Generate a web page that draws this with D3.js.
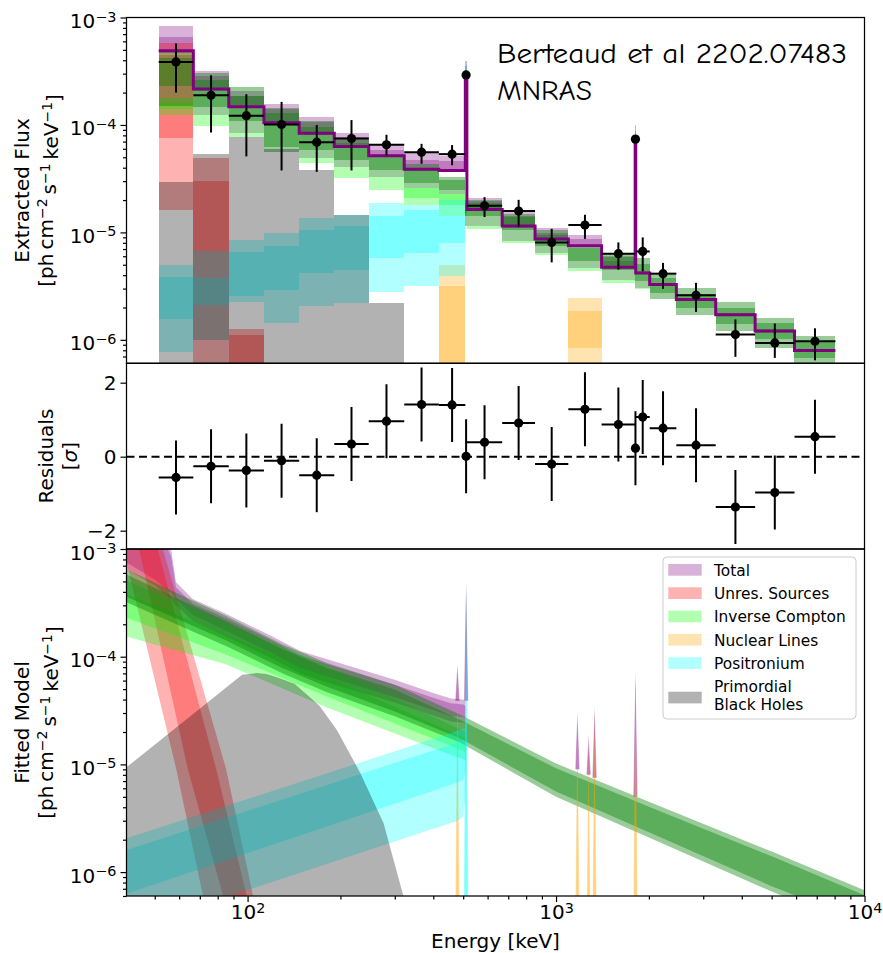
<!DOCTYPE html>
<html><head><meta charset="utf-8">
<script src="https://cdn.jsdelivr.net/npm/d3@7"></script>
<style>
html,body{margin:0;padding:0;background:#fff;}
svg{display:block;font-family:"DejaVu Sans",sans-serif;}
</style></head>
<body><svg id="chart" width="883" height="953"></svg>
<script>
// ===== Extracted flux: energy bins (keV) and measured points =====
const binEdges = [51.5, 66.7, 86.9, 113, 147, 191, 247, 322, 417, 508, 514, 669, 855, 1096, 1405, 1805, 1813, 2012, 2455, 3293, 4420, 5930, 8050];
const flux   = [3.86e-4, 1.89e-4, 1.22e-4, 1.01e-4, 6.92e-5, 7.48e-5, 6.53e-5, 5.58e-5, 5.35e-5, 2.92e-4, 1.77e-5, 1.58e-5, 8.07e-6, 1.17e-5, 6.34e-6, 7.38e-5, 6.65e-6, 4.13e-6, 2.6e-6, 1.12e-6, 9.37e-7, 9.7e-7];
const fluxLo = [2.0e-4, 8.5e-5, 5.1e-5, 3.77e-5, 3.66e-5, 3.77e-5, 5.2e-5, 4.35e-5, 4.22e-5, 2.8e-4, 1.39e-5, 1.12e-5, 5.26e-6, 8.7e-6, 4.5e-6, 7.1e-5, 4.34e-6, 2.98e-6, 1.82e-6, 6.95e-7, 6.8e-7, 6.45e-7];
const fluxHi = [5.73e-4, 2.9e-4, 1.93e-4, 1.64e-4, 1.0e-4, 1.11e-4, 8.1e-5, 6.67e-5, 6.5e-5, 3.05e-4, 2.13e-5, 2.01e-5, 1.08e-5, 1.46e-5, 8.07e-6, 7.7e-5, 8.98e-6, 5.2e-6, 3.39e-6, 1.55e-6, 1.42e-6, 1.28e-6];
const modelStep = [4.91e-4, 2.16e-4, 1.48e-4, 1.05e-4, 8.39e-5, 6.3e-5, 5.16e-5, 3.88e-5, 3.77e-5, 2.95e-4, 1.63e-5, 1.15e-5, 8.69e-6, 7.52e-6, 4.73e-6, 7.4e-5, 4.2e-6, 3.27e-6, 2.37e-6, 1.71e-6, 1.21e-6, 7.96e-7];
const residual = [-0.56, -0.26, -0.37, -0.11, -0.50, 0.34, 0.96, 1.41, 1.40, 0.01, 0.39, 0.91, -0.20, 1.28, 0.87, 0.23, 1.07, 0.77, 0.31, -1.36, -0.97, 0.54];

// ===== Per-bin model components (2 sigma / 1 sigma ranges) =====
const totBinHi2 = [8.33e-4, 3.2e-4, 2.05e-4, 1.57e-4, 1.18e-4, 8.5e-5, 6.53e-5, 5.47e-5, 5.16e-5, 3.9e-4, 2.09e-5, 1.55e-5, 1.1e-5, 9.53e-6, 6.0e-6, 1.0e-4, 4.33e-6, 3.37e-6, 2.44e-6, 1.76e-6, 1.25e-6, 8.2e-7];
const totBinHi1 = [6.63e-4, 2.85e-4, 1.85e-4, 1.42e-4, 1.07e-4, 7.7e-5, 5.88e-5, 4.74e-5, 4.6e-5, 3.5e-4, 1.95e-5, 1.38e-5, 9.9e-6, 8.69e-6, 5.4e-6, 8.8e-5, 4.27e-6, 3.32e-6, 2.41e-6, 1.74e-6, 1.23e-6, 8.1e-7];
const totBinLo1 = [4.91e-4, 2.16e-4, 1.48e-4, 1.05e-4, 8.39e-5, 6.3e-5, 5.16e-5, 3.88e-5, 3.77e-5, 2.8e-4, 1.63e-5, 1.15e-5, 8.69e-6, 7.52e-6, 4.73e-6, 7.0e-5, 4.13e-6, 3.22e-6, 2.33e-6, 1.68e-6, 1.19e-6, 7.8e-7];
const totBinLo2 = [4.7e-4, 2.08e-4, 1.43e-4, 1.01e-4, 8.1e-5, 6.1e-5, 5.0e-5, 3.76e-5, 3.65e-5, 2.6e-4, 1.58e-5, 1.11e-5, 8.4e-6, 7.3e-6, 4.6e-6, 6.6e-5, 4.07e-6, 3.17e-6, 2.3e-6, 1.66e-6, 1.17e-6, 7.7e-7];

const unresBinHi2 = [5.8e-4, 4.9e-5, 1.25e-6, null, null, null, null, null, null, null, null, null, null, null, null, null, null, null, null, null, null, null];
const unresBinHi1 = [4.5e-4, 2.98e-5, 1.12e-6, null, null, null, null, null, null, null, null, null, null, null, null, null, null, null, null, null, null, null];
const unresBinLo1 = [7.53e-5, 1.0e-6, null, null, null, null, null, null, null, null, null, null, null, null, null, null, null, null, null, null, null, null];
const unresBinLo2 = [1.6e-5, null, null, null, null, null, null, null, null, null, null, null, null, null, null, null, null, null, null, null, null, null];

const icBinHi2 = [1.8e-4, 1.24e-4, 8.4e-5, null, 4.91e-5, 4.1e-5, 3.31e-5, 2.6e-5, 2.3e-5, 1.8e-5, 1.14e-5, 8.24e-6, 6.44e-6, 4.66e-6, 3.63e-6, 3.04e-6, 3.04e-6, null, null, null, null, null];
const icBinHi1 = [1.6e-4, null, null, null, null, null, null, 2.6e-5, 2.3e-5, 1.7e-5, null, null, null, null, null, null, null, null, null, null, null, null];
const icBinLo1 = [1.4e-4, null, null, null, null, null, null, 2.1e-5, 1.81e-5, 1.5e-5, null, null, null, null, null, null, null, null, null, null, null, null];
const icBinLo2 = [1.24e-4, 9.8e-5, 7.7e-5, null, 4.42e-5, 3.24e-5, 2.5e-5, 1.81e-5, 1.41e-5, 1.41e-5, 1.08e-5, 7.9e-6, 6.15e-6, 4.4e-6, 3.4e-6, 2.95e-6, 2.95e-6, null, null, null, null, null];

const contBinHi2 = [5.0e-4, 3.07e-4, 2.24e-4, 1.43e-4, 1.1e-4, 7.53e-5, 5.27e-5, 4.3e-5, 3.3e-5, 2.01e-5, 2.01e-5, 1.48e-5, 1.06e-5, 7.4e-6, 6.44e-6, 5.78e-6, 5.78e-6, 4.2e-6, 3.04e-6, 2.23e-6, 1.6e-6, 1.08e-6];
const contBinHi1 = [4.2e-4, 2.62e-4, 1.84e-4, 1.29e-4, 9.66e-5, 6.82e-5, 5.1e-5, 3.9e-5, 3.1e-5, 1.89e-5, 1.89e-5, 1.42e-5, 9.5e-6, 7.2e-6, 5.94e-6, 5.12e-6, 5.12e-6, 3.77e-6, 2.69e-6, 1.98e-6, 1.44e-6, 9.7e-7];
const contBinLo1 = [2.3e-4, 1.48e-4, 1.08e-4, 6.3e-5, 5.88e-5, 4.74e-5, 3.83e-5, 2.9e-5, 2.5e-5, 1.41e-5, 1.41e-5, 1.06e-5, 7.41e-6, 5.37e-6, 4.5e-6, 3.56e-6, 3.56e-6, 2.73e-6, 1.98e-6, 1.39e-6, 1.01e-6, 6.81e-7];
const contBinLo2 = [1.5e-4, 1.24e-4, 8.4e-5, 5.66e-5, 4.91e-5, 4.1e-5, 3.31e-5, 2.6e-5, 2.3e-5, 1.14e-5, 1.14e-5, 8.24e-6, 6.44e-6, 4.66e-6, 3.63e-6, 3.04e-6, 3.04e-6, 2.4e-6, 1.72e-6, 1.2e-6, 8.43e-7, 5.5e-7];

const nucBinHi2 = [null, null, null, null, null, null, null, null, 5.0e-6, null, null, null, null, 2.45e-6, null, 9.0e-5, null, null, null, null, null, null];
const nucBinHi1 = [null, null, null, null, null, null, null, null, 3.15e-6, null, null, null, null, 1.85e-6, null, 8.0e-5, null, null, null, null, null, null];
const nucBinLo1 = [null, null, null, null, null, null, null, null, null, null, null, null, null, 8.43e-7, null, 6.0e-5, null, null, null, null, null, null];
const nucBinLo2 = [null, null, null, null, null, null, null, null, null, null, null, null, null, 4.0e-7, null, 5.5e-5, null, null, null, null, null, null];

const posBinHi2 = [5.0e-6, 6.65e-6, 8.43e-6, 9.86e-6, 1.36e-5, 1.46e-5, 1.87e-5, 1.81e-5, 2.0e-5, 3.7e-4, null, null, null, null, null, null, null, null, null, null, null, null];
const posBinHi1 = [3.85e-6, 3.8e-6, 6.52e-6, 7.41e-6, 1.06e-5, 1.14e-5, 1.41e-5, 1.63e-5, 1.41e-5, 3.3e-4, null, null, null, null, null, null, null, null, null, null, null, null];
const posBinLo1 = [1.55e-6, 2.1e-6, 2.58e-6, 2.93e-6, 4.2e-6, 4.5e-6, 5.78e-6, 6.43e-6, 7.96e-6, 2.6e-4, null, null, null, null, null, null, null, null, null, null, null, null];
const posBinLo2 = [7.7e-7, 1.0e-6, 2.23e-6, 1.44e-6, 2.05e-6, 2.21e-6, 2.77e-6, 3.15e-6, 3.9e-6, 2.4e-4, null, null, null, null, null, null, null, null, null, null, null, null];

const pbhBinTop = [2.92e-5, 5.36e-5, 7.7e-5, 6.0e-5, 3.83e-5, 1.46e-5, 2.21e-6, null, null, null, null, null, null, null, null, null, null, null, null, null, null, null];

// ===== Fitted model curves (energy in keV) =====
const totE   = [40.5, 50, 56.5, 58.6, 66.4, 85, 120, 148, 180, 300, 400, 456, 500, 508];
const totHi2 = [6e-3, 2.2e-3, 1.0e-3, 4.9e-4, 3.43e-4, 2.5e-4, 1.55e-4, 1.13e-4, 9.5e-5, 6.1e-5, 4.6e-5, 4.1e-5, 4.0e-5, 3.9e-5];
const totHi1 = [5e-3, 1.9e-3, 8.5e-4, 4.4e-4, 3.1e-4, 2.28e-4, 1.41e-4, 1.03e-4, 8.6e-5, 5.5e-5, 4.15e-5, 3.7e-5, 3.6e-5, 3.5e-5];
const totLo1 = [7.5e-4, 5.2e-4, 3.9e-4, 3.4e-4, 2.45e-4, 1.75e-4, 1.08e-4, 7.9e-5, 6.6e-5, 4.2e-5, 3.2e-5, 2.8e-5, 2.75e-5, 2.7e-5];
const totLo2 = [6.5e-4, 4.6e-4, 3.4e-4, 3.0e-4, 2.15e-4, 1.55e-4, 9.6e-5, 7.0e-5, 5.8e-5, 3.75e-5, 2.85e-5, 2.5e-5, 2.45e-5, 2.4e-5];

// unresolved sources: edges given as (energy, flux) pairs
const unresHi2E = [45, 53.1, 85.2, 104.2, 110];
const unresHi2V = [4e-3, 1e-3, 9.06e-6, 6e-7, 2.5e-7];
const unresHi1E = [43, 51.1, 79.1, 99.4, 104];
const unresHi1V = [4e-3, 1e-3, 9.06e-6, 6e-7, 2.5e-7];
const unresLo1E = [37, 44.5, 64.0, 83.3, 87];
const unresLo1V = [4e-3, 1e-3, 9.06e-6, 6e-7, 2.5e-7];
const unresLo2E = [36, 40.5, 58.7, 71.7, 74];
const unresLo2V = [3e-3, 7.5e-4, 9.06e-6, 6e-7, 2.5e-7];

const icE   = [40.5, 85, 180, 466, 509, 511];
const icHi2 = [5.1e-4, 2.05e-4, 8.2e-5, 2.25e-5, 2.0e-5, 1.9e-5];
const icHi1 = [3.8e-4, 1.6e-4, 6.6e-5, 1.95e-5, 1.75e-5, 1.7e-5];
const icLo1 = [2.3e-4, 1.05e-4, 4.3e-5, 1.45e-5, 1.3e-5, 1.25e-5];
const icLo2 = [1.54e-4, 8.5e-5, 3.4e-5, 1.2e-5, 1.1e-5, 1.05e-5];

const contE   = [40.5, 60, 85, 130, 180, 300, 488, 1000, 2000, 5000, 10000];
const contHi2 = [6.5e-4, 3.8e-4, 2.4e-4, 1.3e-4, 8.8e-5, 5.5e-5, 2.9e-5, 1.02e-5, 4.5e-6, 1.55e-6, 6.8e-7];
const contHi1 = [5.8e-4, 3.4e-4, 2.15e-4, 1.17e-4, 7.9e-5, 4.95e-5, 2.6e-5, 9.2e-6, 4.05e-6, 1.4e-6, 6.1e-7];
const contLo1 = [3.6e-4, 2.2e-4, 1.42e-4, 7.8e-5, 5.3e-5, 3.1e-5, 1.75e-5, 5.6e-6, 2.35e-6, 7.4e-7, 3.4e-7];
const contLo2 = [3.2e-4, 1.95e-4, 1.26e-4, 7.0e-5, 4.7e-5, 2.8e-5, 1.6e-5, 5.0e-6, 2.1e-6, 6.6e-7, 3.0e-7];

const posE   = [40.5, 480, 500, 509, 511];
const posHi2 = [2.06e-6, 2.05e-5, 2.15e-5, 2.15e-5, 2.0e-5];
const posHi1 = [1.6e-6, 1.6e-5, 1.69e-5, 1.65e-5, 1.5e-5];
const posLo1 = [6.3e-7, 6.8e-6, 7.2e-6, 8.5e-6, 1.2e-5];
const posLo2 = [2.9e-7, 3.0e-6, 3.3e-6, 5.0e-6, 1.0e-5];

const pbhE = [40.5, 96, 107, 115, 125, 133, 142, 151, 171, 195, 232, 276, 320, 335];
const pbhV = [9.4e-6, 6.8e-5, 7.05e-5, 6.9e-5, 6.4e-5, 6.0e-5, 5.6e-5, 4.8e-5, 3.5e-5, 2.08e-5, 8.3e-6, 2.84e-6, 6.0e-7, 3.0e-7];

// emission lines
const nucLineE   = [479, 1173, 1275, 1333, 1809];
const nucLineHi2 = [5.3e-5, 2.4e-5, 1.3e-5, 2.8e-5, 6.6e-5];
const nucLineHi1 = [4.5e-5, 2.0e-5, 1.05e-5, 2.4e-5, 5.8e-5];
const posLineE = 511, posLineHi2 = 4.8e-4, posLineHi1 = 4.4e-4;
const totLineE    = [479, 511, 1173, 1275, 1333, 1809];
const totLineBase = [3.9e-5, 3.9e-5, 9.0e-6, 8.0e-6, 7.5e-6, 5.0e-6];
const totLineHi2  = [8.6e-5, 4.9e-4, 3.1e-5, 1.9e-5, 3.5e-5, 7.3e-5];
const totLineHi1  = [7.6e-5, 4.5e-4, 2.6e-5, 1.6e-5, 3.0e-5, 6.5e-5];

// ===== Tick labels / text =====
const fluxTickExp = [-6, -5, -4, -3];
const energyTickExp = [2, 3, 4];
const residualTicks = [-2, 0, 2];
const residualTickLabels = ["\u22122", "0", "2"];
const legendLabels = [["Total"], ["Unres. Sources"], ["Inverse Compton"], ["Nuclear Lines"], ["Positronium"], ["Primordial", "Black Holes"]];

// ===== Layout / scales =====
const svg = d3.select('#chart');
const X0 = 126.5, X1 = 864.5;
const T1 = 17.5, B1 = 363.3, B2 = 549, B3 = 896;
const x  = d3.scaleLog().domain([40.5, 1e4]).range([X0, X1]);
const yT = d3.scaleLog().domain([6.05e-7, 1e-3]).range([B1, T1]);
const yR = d3.scaleLinear().domain([-2.495, 2.524]).range([B2, B1]);
const yB = d3.scaleLog().domain([6.0e-7, 1e-3]).range([B3, B2]);
const FLOOR = 1e-9, LINE_FLOOR = 1e-7;

const COL = {total:'#800080', unres:'#ff0000', ic:'#00ff00', cont:'#008000', nuc:'#ffa500', pos:'#00ffff', pbh:'#000000'};
const ALPHA = {total:0.3, unres:0.3, ic:0.3, cont:0.4, nuc:0.3, pos:0.3, pbh:0.3};

const defs = svg.append('defs');
function addClip(id, y0, y1) {
  defs.append('clipPath').attr('id', id).append('rect')
    .attr('x', X0).attr('y', y0).attr('width', X1 - X0).attr('height', y1 - y0);
}
addClip('clipTop', T1, B1); addClip('clipRes', B1, B2); addClip('clipBot', B2, B3);

// ===== Top panel: binned components =====
const bins = d3.range(flux.length).map(i => ({lo: binEdges[i], hi: binEdges[i + 1]}));
const gTop = svg.append('g').attr('clip-path', 'url(#clipTop)');

function binBand(lo, hi, key) {
  const d = bins.map((b, i) => ({b, lo: lo[i], hi: hi[i]})).filter(v => v.hi != null);
  gTop.append('g').selectAll('rect').data(d).join('rect')
    .attr('x', v => x(v.b.lo)).attr('width', v => x(v.b.hi) - x(v.b.lo))
    .attr('y', v => yT(v.hi)).attr('height', v => yT(v.lo == null ? FLOOR : v.lo) - yT(v.hi))
    .attr('fill', COL[key]).attr('fill-opacity', ALPHA[key]).attr('shape-rendering', 'crispEdges');
}
function binComponent(lo2, lo1, hi1, hi2, key) { binBand(lo2, hi2, key); binBand(lo1, hi1, key); }

binComponent(totBinLo2, totBinLo1, totBinHi1, totBinHi2, 'total');
binComponent(unresBinLo2, unresBinLo1, unresBinHi1, unresBinHi2, 'unres');
binComponent(icBinLo2, icBinLo1, icBinHi1, icBinHi2, 'ic');
binComponent(contBinLo2, contBinLo1, contBinHi1, contBinHi2, 'cont');
binComponent(nucBinLo2, nucBinLo1, nucBinHi1, nucBinHi2, 'nuc');
binComponent(posBinLo2, posBinLo1, posBinHi1, posBinHi2, 'pos');
binBand(pbhBinTop.map(() => null), pbhBinTop, 'pbh');

// best-fit step
const stepPts = bins.flatMap((b, i) => [[x(b.lo), yT(modelStep[i])], [x(b.hi), yT(modelStep[i])]]);
gTop.append('path').attr('d', d3.line()(stepPts)).attr('fill', 'none')
  .attr('stroke', '#800080').attr('stroke-width', 3).attr('stroke-linejoin', 'miter');

// measured points with error bars
function errorPoints(g, yScale, vals, lo, hi) {
  const pts = bins.map((b, i) => ({b, c: Math.sqrt(b.lo * b.hi), v: vals[i], lo: lo[i], hi: hi[i]}));
  const gp = g.append('g').attr('stroke', '#000').attr('stroke-width', 2);
  gp.selectAll('line.v').data(pts).join('line').attr('class', 'v')
    .attr('x1', d => x(d.c)).attr('x2', d => x(d.c)).attr('y1', d => yScale(d.lo)).attr('y2', d => yScale(d.hi));
  gp.selectAll('line.h').data(pts).join('line').attr('class', 'h')
    .attr('x1', d => x(d.b.lo)).attr('x2', d => x(d.b.hi)).attr('y1', d => yScale(d.v)).attr('y2', d => yScale(d.v));
  g.append('g').selectAll('circle').data(pts).join('circle')
    .attr('cx', d => x(d.c)).attr('cy', d => yScale(d.v)).attr('r', 4.6).attr('fill', '#000');
}
errorPoints(svg.append('g'), yT, flux, fluxLo, fluxHi);

// ===== Residual panel =====
const gRes = svg.append('g').attr('clip-path', 'url(#clipRes)');
gRes.append('line').attr('x1', X0).attr('x2', X1).attr('y1', yR(0)).attr('y2', yR(0))
  .attr('stroke', '#000').attr('stroke-width', 2).attr('stroke-dasharray', '8,4.5');
errorPoints(gRes, yR, residual, residual.map(r => r - 1), residual.map(r => r + 1));

// ===== Bottom panel: fitted model curves =====
const gBot = svg.append('g').attr('clip-path', 'url(#clipBot)');
function polyPath(pts) { return d3.line()(pts) + 'Z'; }
function curveBand(E, lo, hi, key) {
  const pts = E.map((e, i) => [x(e), yB(hi[i])]).concat(E.map((e, i) => [x(e), yB(lo[i])]).reverse());
  gBot.append('path').attr('d', polyPath(pts)).attr('fill', COL[key]).attr('fill-opacity', ALPHA[key]);
}
function edgeBand(hiE, hiV, loE, loV, key) {
  const pts = hiE.map((e, i) => [x(e), yB(hiV[i])]).concat(loE.map((e, i) => [x(e), yB(loV[i])]).reverse());
  gBot.append('path').attr('d', polyPath(pts)).attr('fill', COL[key]).attr('fill-opacity', ALPHA[key]);
}
function spike(E0, base, peak, halfPx, key) {
  const cx = x(E0);
  const pts = [[cx - halfPx, yB(base)], [cx, yB(peak)], [cx + halfPx, yB(base)]];
  gBot.append('path').attr('d', polyPath(pts)).attr('fill', COL[key]).attr('fill-opacity', ALPHA[key]);
}

curveBand(totE, totLo2, totHi2, 'total');
curveBand(totE, totLo1, totHi1, 'total');
totLineE.forEach((e, i) => { spike(e, totLineBase[i], totLineHi2[i], 2.2, 'total'); spike(e, totLineBase[i], totLineHi1[i], 1.6, 'total'); });
edgeBand(unresHi2E, unresHi2V, unresLo2E, unresLo2V, 'unres');
edgeBand(unresHi1E, unresHi1V, unresLo1E, unresLo1V, 'unres');
curveBand(icE, icLo2, icHi2, 'ic');
curveBand(icE, icLo1, icHi1, 'ic');
curveBand(contE, contLo2, contHi2, 'cont');
curveBand(contE, contLo1, contHi1, 'cont');
nucLineE.forEach((e, i) => { spike(e, LINE_FLOOR, nucLineHi2[i], 2.8, 'nuc'); spike(e, LINE_FLOOR, nucLineHi1[i], 1.8, 'nuc'); });
curveBand(posE, posLo2, posHi2, 'pos');
curveBand(posE, posLo1, posHi1, 'pos');
spike(posLineE, LINE_FLOOR, posLineHi2, 2.8, 'pos');
spike(posLineE, LINE_FLOOR, posLineHi1, 2.0, 'pos');
{
  const pts = pbhE.map((e, i) => [x(e), yB(pbhV[i])]).concat([[x(pbhE[pbhE.length - 1]), yB(FLOOR)], [x(pbhE[0]) - 5, yB(FLOOR)], [x(pbhE[0]) - 5, yB(pbhV[0])]]);
  gBot.append('path').attr('d', polyPath(pts)).attr('fill', COL.pbh).attr('fill-opacity', ALPHA.pbh);
}

// ===== Frames =====
[[T1, B1], [B1, B2], [B2, B3]].forEach(([a, b]) => {
  svg.append('rect').attr('x', X0).attr('y', a).attr('width', X1 - X0).attr('height', b - a)
    .attr('fill', 'none').attr('stroke', '#000').attr('stroke-width', 1.25);
});

// ===== Axes =====
function powerLabel(textSel, expOf) {
  textSel.each(function(d) {
    const t = d3.select(this); t.text(null);
    t.append('tspan').text('10');
    t.append('tspan').attr('dy', '-0.45em').attr('font-size', '0.72em').text(String(expOf(d)).replace('-', '\u2212'));
  });
}
function styleAxis(g) {
  g.select('.domain').remove();
  g.selectAll('.tick line').attr('stroke', '#000').attr('stroke-width', 1.2);
  g.selectAll('.tick text').attr('fill', '#000').attr('font-size', 20).attr('font-family', '"DejaVu Sans",sans-serif');
}
function logYAxis(scale) {
  const majors = fluxTickExp.map(e => Math.pow(10, e));
  const minors = scale.ticks().filter(v => !majors.some(m => Math.abs(v / m - 1) < 1e-6));
  const g = svg.append('g').attr('transform', `translate(${X0},0)`);
  g.append('g').call(d3.axisLeft(scale).tickValues(minors).tickSize(3.5).tickFormat('')).call(styleAxis);
  const gm = g.append('g').call(d3.axisLeft(scale).tickValues(majors).tickSize(6).tickPadding(4).tickFormat(d => d)).call(styleAxis);
  gm.selectAll('.tick text').attr('dy', '0.5em');
  powerLabel(gm.selectAll('.tick text'), d => Math.round(Math.log10(d)));
}
logYAxis(yT);
logYAxis(yB);
{
  const g = svg.append('g').attr('transform', `translate(${X0},0)`);
  g.call(d3.axisLeft(yR).tickValues(residualTicks).tickSize(6).tickPadding(4).tickFormat((d, i) => residualTickLabels[i])).call(styleAxis);
  g.selectAll('.tick text').attr('dy', '0.36em');
}
{
  const majors = energyTickExp.map(e => Math.pow(10, e));
  const minors = x.ticks().filter(v => !majors.some(m => Math.abs(v / m - 1) < 1e-6));
  const g = svg.append('g').attr('transform', `translate(0,${B3})`);
  g.append('g').call(d3.axisBottom(x).tickValues(minors).tickSize(3.5).tickFormat('')).call(styleAxis);
  const gm = g.append('g').call(d3.axisBottom(x).tickValues(majors).tickSize(6).tickPadding(3).tickFormat(d => d)).call(styleAxis);
  powerLabel(gm.selectAll('.tick text'), d => Math.round(Math.log10(d)));
}

// ===== Axis titles =====
function unitLine(t) {
  t.append('tspan').text('[ph\u2009cm');
  t.append('tspan').attr('dy', '-0.42em').attr('font-size', '0.7em').text('\u22122');
  t.append('tspan').attr('dy', '0.42em').text('\u2009s');
  t.append('tspan').attr('dy', '-0.42em').attr('font-size', '0.7em').text('\u22121');
  t.append('tspan').attr('dy', '0.42em').text('\u2009keV');
  t.append('tspan').attr('dy', '-0.42em').attr('font-size', '0.7em').text('\u22121');
  t.append('tspan').attr('dy', '0.42em').text(']');
}
function yTitle(cy, xl1, xl2, first, second) {
  svg.append('text').attr('transform', `translate(${xl1},${cy}) rotate(-90)`).attr('text-anchor', 'middle')
    .attr('font-size', 20).text(first);
  const t = svg.append('text').attr('transform', `translate(${xl2},${cy}) rotate(-90)`).attr('text-anchor', 'middle').attr('font-size', 20);
  second(t);
}
yTitle((T1 + B1) / 2, 29, 53, 'Extracted Flux', unitLine);
yTitle((B2 + B3) / 2, 29, 53, 'Fitted Model', unitLine);
yTitle((B1 + B2) / 2, 53, 77, 'Residuals', t => {
  t.append('tspan').text('[');
  t.append('tspan').attr('font-style', 'italic').text('\u03c3');
  t.append('tspan').text(']');
});
svg.append('text').attr('x', (X0 + X1) / 2).attr('y', 948).attr('text-anchor', 'middle').attr('font-size', 20).text('Energy [keV]');

// ===== Reference note =====
const note = svg.append('g').attr('font-family', "'Comic Sans MS','Comic Neue','DejaVu Sans',sans-serif").attr('font-size', 28);
note.append('text').attr('x', 497).attr('y', 63).attr('textLength', 350).attr('lengthAdjust', 'spacingAndGlyphs').text('Berteaud et al 2202.07483');
note.append('text').attr('x', 497).attr('y', 100).attr('textLength', 95).attr('lengthAdjust', 'spacingAndGlyphs').text('MNRAS');

// ===== Legend =====
const legendKeys = ['total', 'unres', 'ic', 'nuc', 'pos', 'pbh'];
const lg = svg.append('g');
lg.append('rect').attr('x', 663).attr('y', 557).attr('width', 193).attr('height', 162).attr('rx', 4)
  .attr('fill', '#fff').attr('fill-opacity', 0.8).attr('stroke', '#cccccc').attr('stroke-width', 1);
legendLabels.forEach((lines, i) => {
  const base = 575.7 + i * 23.3;
  const patchY = i < 5 ? base - 11.7 : 691.7;
  lg.append('rect').attr('x', 668.3).attr('y', patchY).attr('width', 33.4).attr('height', 11.7)
    .attr('fill', COL[legendKeys[i]]).attr('fill-opacity', ALPHA[legendKeys[i]]);
  lines.forEach((s, j) => {
    lg.append('text').attr('x', 714).attr('y', i < 5 ? base : 692.3 + j * 17.7).attr('font-size', 15.4).text(s);
  });
});
</script></body></html>
